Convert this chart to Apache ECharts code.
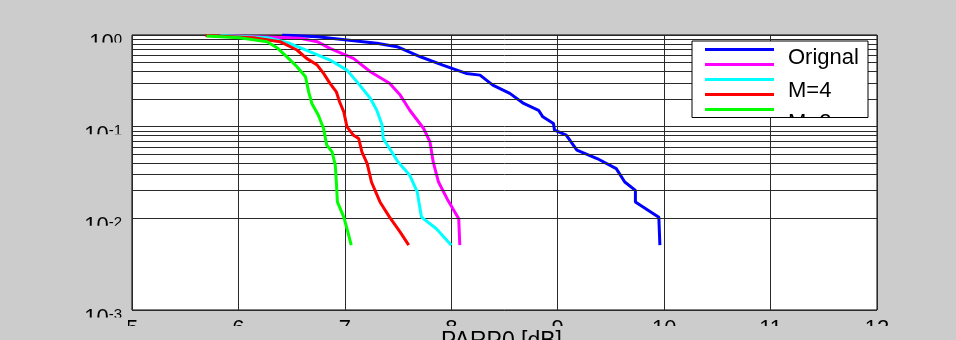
<!DOCTYPE html>
<html><head><meta charset="utf-8">
<script src="https://cdn.jsdelivr.net/npm/echarts@6/dist/echarts.min.js"></script>
<style>html,body{margin:0;padding:0;background:#cccccc;}#c{width:956px;height:340px;}</style>
</head><body><div id="c"></div>
<script>
// ---- data ----
const xMin = 5, xMax = 12, xStep = 1;
const yTickValues = [0.001, 0.01, 0.1, 1];
const xAxisTitle = 'PARP0 [dB]';
const legendLabels = ['Orignal', 'M=4', 'M=2'];
const seriesNames = ['Orignal', 'M=4', 'M=2', 'Series 4', 'Series 5'];
const seriesColors = ['#0000ff', '#ff00ff', '#00ffff', '#ff0000', '#00ff00'];

const blueX = [6.41, 6.74, 7.02, 7.30, 7.49, 7.71, 7.92, 8.14, 8.27, 8.39, 8.55, 8.68, 8.82, 8.86, 8.96, 8.97, 9.08, 9.18, 9.37, 9.55, 9.63, 9.73, 9.73, 9.95, 9.96];
const blueY = [1.0, 0.958, 0.882, 0.812, 0.745, 0.579, 0.470, 0.381, 0.365, 0.284, 0.231, 0.179, 0.151, 0.128, 0.108, 0.0916, 0.0807, 0.0554, 0.0449, 0.0349, 0.0249, 0.0202, 0.0151, 0.0103, 0.0051];

const magentaX = [5.92, 6.58, 6.74, 6.86, 7.08, 7.24, 7.42, 7.52, 7.61, 7.74, 7.80, 7.83, 7.88, 7.96, 8.07, 8.08];
const magentaY = [0.98, 0.920, 0.845, 0.716, 0.556, 0.397, 0.297, 0.221, 0.151, 0.0955, 0.0682, 0.0412, 0.0249, 0.0164, 0.0099, 0.0051];

const cyanX = [5.83, 6.27, 6.48, 6.67, 6.86, 7.02, 7.14, 7.24, 7.30, 7.35, 7.36, 7.42, 7.50, 7.61, 7.68, 7.72, 7.86, 8.00];
const cyanY = [0.99, 0.934, 0.812, 0.657, 0.533, 0.414, 0.284, 0.203, 0.151, 0.104, 0.0743, 0.0578, 0.0412, 0.0295, 0.0194, 0.0103, 0.0077, 0.0051];

const redX = [5.69, 6.14, 6.39, 6.55, 6.64, 6.74, 6.80, 6.86, 6.92, 6.95, 6.99, 7.02, 7.08, 7.13, 7.16, 7.21, 7.25, 7.33, 7.42, 7.52, 7.60];
const redY = [0.99, 0.934, 0.845, 0.686, 0.556, 0.470, 0.381, 0.297, 0.240, 0.187, 0.145, 0.0995, 0.0807, 0.0743, 0.0530, 0.0396, 0.0249, 0.0151, 0.0103, 0.00708, 0.0051];

const greenX = [5.70, 6.01, 6.27, 6.37, 6.47, 6.55, 6.63, 6.66, 6.69, 6.75, 6.80, 6.83, 6.88, 6.91, 6.92, 6.93, 6.99, 7.02, 7.06];
const greenY = [0.975, 0.934, 0.845, 0.716, 0.556, 0.450, 0.350, 0.240, 0.179, 0.134, 0.0955, 0.0628, 0.0530, 0.0380, 0.0249, 0.0151, 0.0103, 0.0077, 0.0051];

// ---- styling / layout ----
const FONT = '"Liberation Sans", Arial, Helvetica, sans-serif';
const BG = '#cccccc';
const GRIDC = '#2a2a2a';
const curves = [[blueX, blueY], [magentaX, magentaY], [cyanX, cyanY], [redX, redY], [greenX, greenY]];

// minor log grid lines 2..9 x 10^k
const minorGrid = [];
for (let k = -3; k < 0; k++) for (let m = 2; m <= 9; m++) minorGrid.push(+(m * Math.pow(10, k)).toPrecision(3));

const chart = echarts.init(document.getElementById('c'), null, {renderer: 'canvas', width: 956, height: 340});

const option = {
  backgroundColor: BG,
  animation: false,
  grid: {left: 132, right: 79, top: 35, bottom: 30, show: true, backgroundColor: '#ffffff', borderColor: '#000000', borderWidth: 1, containLabel: false},
  xAxis: {
    type: 'value', min: xMin, max: xMax, interval: xStep,
    axisLine: {show: false}, axisTick: {show: false},
    splitLine: {show: true, lineStyle: {color: GRIDC, width: 1}},
    axisLabel: {fontSize: 22, fontFamily: FONT, color: '#000', margin: 8}
  },
  yAxis: {
    type: 'log', logBase: 10, min: yTickValues[0], max: yTickValues[yTickValues.length - 1],
    axisLine: {show: false}, axisTick: {show: false},
    splitLine: {show: true, lineStyle: {color: GRIDC, width: 1}},
    axisLabel: {
      margin: 10,
      padding: [16, 0, 0, 0],
      formatter: v => '{b|10}{s|' + Math.round(Math.log10(v)) + '}',
      rich: {
        b: {fontSize: 22, fontFamily: FONT, color: '#000', lineHeight: 22, padding: [12, 0, 0, 0], verticalAlign: 'bottom'},
        s: {fontSize: 15, fontFamily: FONT, color: '#000', lineHeight: 15, verticalAlign: 'top'}
      }
    }
  },
  series: [
    {
      type: 'line', name: 'grid', data: [], z: 1, silent: true,
      markLine: {
        silent: true, animation: false, symbol: ['none', 'none'], label: {show: false},
        emphasis: {disabled: true},
        lineStyle: {color: GRIDC, width: 1, type: 'solid'},
        data: minorGrid.map(v => ({yAxis: v}))
      }
    }
  ].concat(curves.map((c, i) => ({
    type: 'line', name: seriesNames[i],
    data: c[0].map((x, j) => [x, c[1][j]]),
    showSymbol: false, symbol: 'none', silent: true, z: 3 + i,
    lineStyle: {width: 3, color: seriesColors[i]},
    itemStyle: {color: seriesColors[i]}
  })))
};
chart.setOption(option);

// covers reproducing the clipped tick labels of the reference
const covers = yTickValues.map(v => {
  const py = chart.convertToPixel({yAxisIndex: 0}, v);
  return {type: 'rect', z: 50, silent: true, shape: {x: 60, y: py + 7.5, width: 68, height: 18}, style: {fill: BG}};
});
const plotBottom = chart.convertToPixel({yAxisIndex: 0}, yTickValues[0]);
const plotLeft = chart.convertToPixel({xAxisIndex: 0}, xMin);
const plotRight = chart.convertToPixel({xAxisIndex: 0}, xMax);
const plotTop = chart.convertToPixel({yAxisIndex: 0}, yTickValues[yTickValues.length - 1]);
covers.push({type: 'rect', z: 50, silent: true, shape: {x: 0, y: plotBottom + 16, width: 956, height: 30}, style: {fill: BG}});

// legend box
const lg = {x: plotRight - 185, y: plotTop + 6, w: 176, h: 76.5};
const legendEls = [{type: 'rect', z: 60, silent: true, shape: {x: lg.x, y: lg.y, width: lg.w, height: lg.h}, style: {fill: '#fff', stroke: '#000', lineWidth: 1}}];
seriesColors.forEach((col, i) => {
  const yy = lg.y + 8.5 + i * 15;
  legendEls.push({type: 'line', z: 61, silent: true, shape: {x1: lg.x + 13, y1: yy, x2: lg.x + 82, y2: yy}, style: {stroke: col, lineWidth: 3}});
});
legendLabels.slice(0, 2).forEach((t, i) => {
  legendEls.push({type: 'text', z: 61, silent: true, x: lg.x + 96, y: lg.y + 17 + i * 32.5, style: {text: t, font: '22px ' + FONT, fill: '#000', verticalAlign: 'middle', textAlign: 'left'}});
});

chart.setOption({graphic: {elements: covers.concat([
  {type: 'text', z: 60, silent: true, x: (plotLeft + plotRight) / 2 - 3, y: plotBottom + 20, style: {text: xAxisTitle, font: '23px ' + FONT, fill: '#000', textAlign: 'center', verticalAlign: 'top'}}
]).concat(legendEls)}});

// third legend label is clipped by the legend box
const zr = chart.getZr();
const G = echarts.graphic;
const lastText = new G.Text({
  style: {text: legendLabels[2], font: '22px ' + FONT, fill: '#000', verticalAlign: 'middle', align: 'left', x: lg.x + 96, y: lg.y + 17 + 2 * 32.5},
  z: 70, silent: true
});
lastText.setClipPath(new G.Rect({shape: {x: lg.x, y: lg.y, width: lg.w, height: lg.h - 0.5}}));
zr.add(lastText);
zr.refreshImmediately();
</script></body></html>
